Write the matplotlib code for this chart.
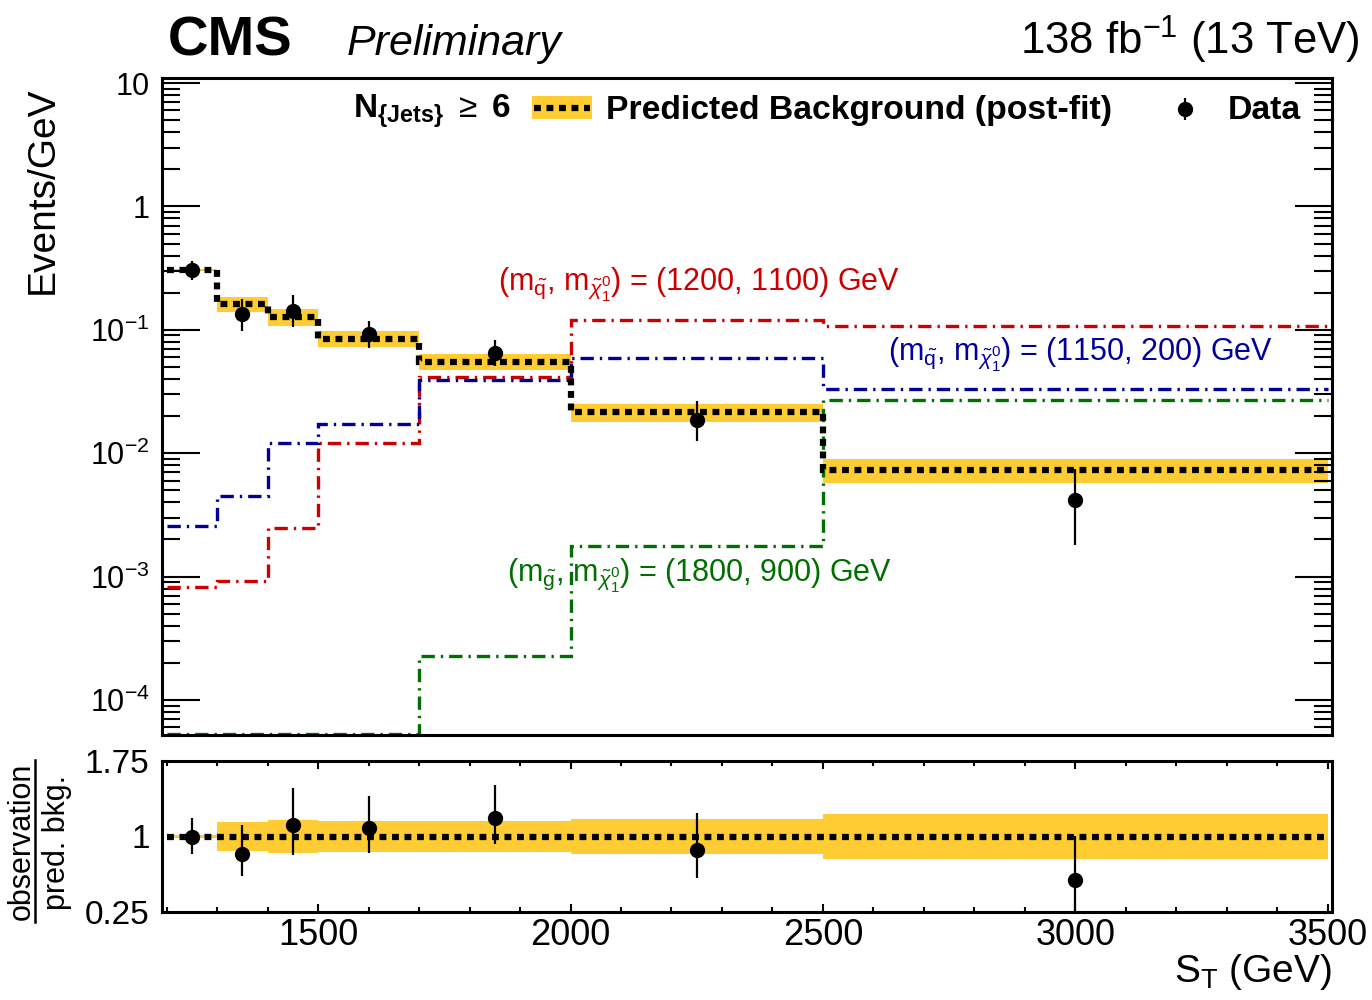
import numpy as np
import matplotlib
matplotlib.use('Agg')
import matplotlib.pyplot as plt
from matplotlib.ticker import LogLocator, FuncFormatter, NullFormatter, MultipleLocator, NullLocator
from matplotlib.lines import Line2D
from matplotlib.patches import Rectangle

plt.rcParams['font.family'] = ['Liberation Sans', 'DejaVu Sans']
plt.rcParams['mathtext.fontset'] = 'custom'
plt.rcParams['mathtext.rm'] = 'Liberation Sans'
plt.rcParams['mathtext.it'] = 'Liberation Sans:italic'
plt.rcParams['mathtext.bf'] = 'Liberation Sans:bold'

# S_T binning (GeV)
edges = [1200, 1300, 1400, 1500, 1700, 2000, 2500, 3500]

# post-fit background, events/GeV, and its relative uncertainty
bkg = [0.305, 0.161, 0.128, 0.0848, 0.0552, 0.0214, 0.00735]
bkg_rel_unc = [0.012, 0.14, 0.16, 0.15, 0.15, 0.17, 0.22]

# observed data
data_x = [1250, 1350, 1450, 1600, 1850, 2250, 3000]
data_y = [0.305, 0.1335, 0.142, 0.092, 0.0654, 0.0185, 0.0042]
data_hi = [0.055, 0.046, 0.048, 0.027, 0.018, 0.008, 0.0032]
data_lo = [0.052, 0.036, 0.037, 0.021, 0.0145, 0.006, 0.0024]

# signal hypotheses
sig_sq_1200_1100 = [8.2e-4, 9.25e-4, 2.46e-3, 0.0122, 0.0412, 0.120, 0.107]
sig_sq_1150_200 = [2.58e-3, 4.49e-3, 0.0120, 0.0172, 0.0392, 0.0596, 0.0334]
sig_gl_1800_900 = [5.3e-5, 5.3e-5, 5.3e-5, 5.3e-5, 2.26e-4, 1.78e-3, 0.0269]

c_red = '#cc0000'
c_blue = '#000099'
c_green = '#006e00'
c_band = '#ffcc33'

bkg = np.array(bkg)
rel = np.array(bkg_rel_unc)
data_y = np.array(data_y)
data_hi = np.array(data_hi)
data_lo = np.array(data_lo)
bin_idx = np.searchsorted(edges, data_x) - 1

fig = plt.figure(figsize=(13.72, 10), dpi=100)
ax = fig.add_axes([0.1181, 0.265, 0.8527, 0.657])
rax = fig.add_axes([0.1181, 0.088, 0.8527, 0.151])

dotted = (0, (1.1, 0.9))
sig_style = (0, (4.0, 1.8, 0.7, 1.8))

# --- main panel ---
ax.stairs(bkg * (1 + rel), edges, baseline=bkg * (1 - rel), fill=True,
          color=c_band, lw=0, zorder=1)
ax.stairs(sig_sq_1200_1100, edges, baseline=None, color=c_red, lw=2.4,
          linestyle=sig_style, zorder=2)
ax.stairs(sig_sq_1150_200, edges, baseline=None, color=c_blue, lw=2.4,
          linestyle=sig_style, zorder=2)
ax.stairs(sig_gl_1800_900, edges, baseline=None, color=c_green, lw=2.4,
          linestyle=sig_style, zorder=2)
ax.stairs(bkg, edges, baseline=None, color='black', lw=4.5,
          linestyle=dotted, zorder=3)
ax.errorbar(data_x, data_y, yerr=[data_lo, data_hi], fmt='o', color='black',
            ms=10, elinewidth=1.6, capsize=0, zorder=4)

ax.set_yscale('log')
ax.set_xlim(1191, 3508)
ax.set_ylim(5.2e-5, 11)
ax.xaxis.set_major_locator(NullLocator())
ax.xaxis.set_minor_locator(NullLocator())
ax.yaxis.set_major_locator(LogLocator(base=10, numticks=20))
ax.yaxis.set_minor_locator(LogLocator(base=10, subs=np.arange(2, 10), numticks=20))
ax.yaxis.set_minor_formatter(NullFormatter())


def log_label(v, pos):
    e = int(round(np.log10(v)))
    if e == 1:
        return '10'
    if e == 0:
        return '1'
    return r'$10^{%d}$' % e


ax.yaxis.set_major_formatter(FuncFormatter(log_label))
ax.tick_params(axis='y', which='major', direction='in', length=27, width=1.5,
               left=True, right=True, labelsize=22, pad=9)
ax.tick_params(axis='y', which='minor', direction='in', length=13, width=1.5,
               left=True, right=True)
for s in ax.spines.values():
    s.set_linewidth(2.2)

# legend row
ax.text(0.298, 0.949, r'N$_{\mathbf{\{Jets\}}}$ $\geq$ 6', transform=ax.transAxes,
        ha='right', va='center', fontsize=24, fontweight='bold')
ax.add_patch(Rectangle((0.316, 0.937), 0.0513, 0.035, transform=ax.transAxes,
                       facecolor=c_band, edgecolor='none', zorder=5))
ax.add_line(Line2D([0.318, 0.366], [0.9545, 0.9545], transform=ax.transAxes,
                   color='black', lw=4.5, linestyle=dotted, zorder=6))
ax.text(0.3795, 0.951, 'Predicted Background (post-fit)', transform=ax.transAxes,
        ha='left', va='center', fontsize=24.3, fontweight='bold')
ax.errorbar([0.874], [0.953], yerr=[[0.017], [0.017]], fmt='o', color='black',
            ms=10, elinewidth=1.6, transform=ax.transAxes, clip_on=False)
ax.text(0.911, 0.951, 'Data', transform=ax.transAxes,
        ha='left', va='center', fontsize=24.3, fontweight='bold')

# signal labels
ax.text(0.287, 0.676, r'(m$_{\tilde{\mathrm{q}}}$, m$_{\tilde{\chi}^{0}_{1}}$) = (1200, 1100) GeV',
        transform=ax.transAxes, color=c_red, fontsize=22, ha='left', va='baseline')
ax.text(0.6205, 0.569, r'(m$_{\tilde{\mathrm{q}}}$, m$_{\tilde{\chi}^{0}_{1}}$) = (1150, 200) GeV',
        transform=ax.transAxes, color=c_blue, fontsize=22, ha='left', va='baseline')
ax.text(0.295, 0.233, r'(m$_{\tilde{\mathrm{g}}}$, m$_{\tilde{\chi}^{0}_{1}}$) = (1800, 900) GeV',
        transform=ax.transAxes, color=c_green, fontsize=22, ha='left', va='baseline')

# --- ratio panel ---
ratio = data_y / bkg[bin_idx]
ratio_hi = data_hi / bkg[bin_idx]
ratio_lo = data_lo / bkg[bin_idx]
ones = bkg / bkg

rax.stairs(ones + rel, edges, baseline=ones - rel, fill=True, color=c_band, lw=0, zorder=1)
rax.stairs(ones, edges, baseline=None, color='black', lw=4.5, linestyle=dotted, zorder=3)
rax.errorbar(data_x, ratio, yerr=[ratio_lo, ratio_hi], fmt='o', color='black',
             ms=10, elinewidth=1.6, capsize=0, zorder=4)

rax.set_xlim(1191, 3508)
rax.set_ylim(0.25, 1.75)
rax.set_yticks([0.25, 1, 1.75], ['0.25', '1', '1.75'])
rax.xaxis.set_major_locator(MultipleLocator(500))
rax.xaxis.set_minor_locator(MultipleLocator(100))
rax.tick_params(axis='y', which='both', length=0, labelsize=24, pad=9)
rax.tick_params(axis='x', which='major', direction='in', length=6, width=1.5,
                top=True, bottom=True, labelsize=26, pad=4)
rax.tick_params(axis='x', which='minor', direction='in', length=3.5, width=1.5,
                top=True, bottom=True)
for s in rax.spines.values():
    s.set_linewidth(2.2)

# --- figure labels ---
fig.text(0.1224, 0.945, 'CMS', fontsize=40.5, fontweight='bold', ha='left', va='baseline')
fig.text(0.2529, 0.945, 'Preliminary', fontsize=31, style='italic', ha='left', va='baseline')
fig.text(0.9913, 0.945, r'138 fb$^{\mathrm{-1}}$ (13 TeV)', fontsize=31.5, ha='right', va='baseline')
fig.text(0.031, 0.81, 'Events/GeV', fontsize=28, rotation=90, ha='center', va='center')
fig.text(0.9708, 0.018, r'S$_{\mathrm{T}}$ (GeV)', fontsize=28, ha='right', va='baseline')

fig.text(0.016, 0.159, 'observation', fontsize=22, rotation=90, ha='center', va='center')
fig.text(0.0415, 0.158, 'pred. bkg.', fontsize=22, rotation=90, ha='center', va='center')
fig.add_artist(Line2D([0.0255, 0.0255], [0.078, 0.240], transform=fig.transFigure,
                      color='black', lw=1.8))

fig.savefig('out.png', dpi=100)
